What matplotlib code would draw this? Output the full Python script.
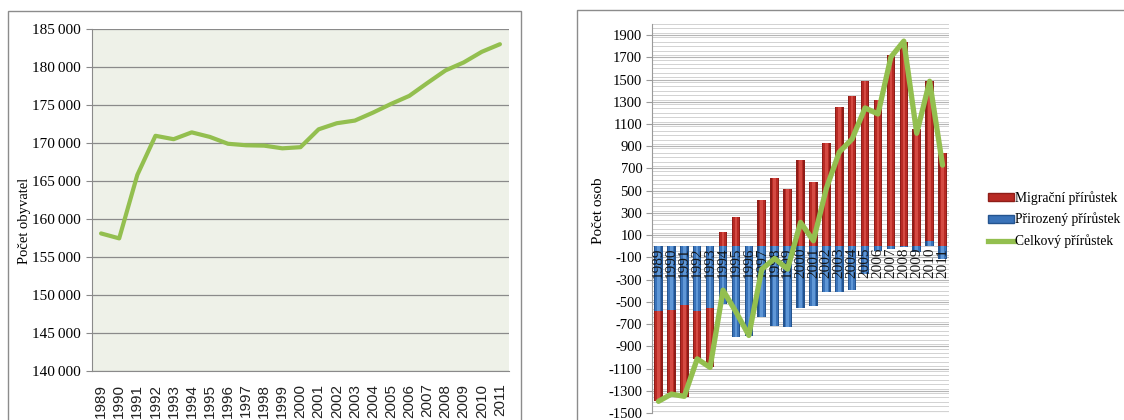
import matplotlib
matplotlib.use("Agg")
import matplotlib.pyplot as plt
import numpy as np
from matplotlib.patches import Rectangle
from matplotlib.lines import Line2D
from matplotlib.ticker import FuncFormatter, MultipleLocator

plt.rcParams['font.family'] = ['Liberation Serif', 'DejaVu Serif']
plt.rcParams['axes.unicode_minus'] = False

# ---------------- data ----------------
years = [str(y) for y in range(1989, 2012)]

population = [158100, 157450, 165800, 170950, 170500, 171400, 170800, 169900,
              169700, 169650, 169300, 169450, 171800, 172600, 172950, 174000,
              175150, 176200, 177900, 179550, 180600, 182000, 183000]

natural = [-583, -570, -530, -585, -555, -520, -820, -805,
           -640, -715, -725, -555, -540, -407, -410, -395,
           -252, -43, -25, -5, -52, 50, -111]

migration = [-810, -750, -830, -430, -530, 131, 262, 0,
             420, 614, 513, 778, 581, 927, 1253, 1354,
             1488, 1318, 1724, 1840, 1057, 1438, 838]

total = [-1395, -1330, -1350, -1013, -1090, -395, -590, -802,
         -207, -110, -205, 215, 50, 520, 847, 966,
         1245, 1190, 1702, 1846, 1017, 1485, 730]

legend_labels = ['Migrační přírůstek', 'Přirozený přírůstek', 'Celkový přírůstek']

# ---------------- figure ----------------
W, H = 1124, 420
fig = plt.figure(figsize=(W / 100, H / 100), dpi=100)

def fx(px):
    return px / W

def fy(py):
    return 1 - py / H

# panel frames
frame_col = '#8c8c8c'
fig.patches.append(Rectangle((fx(8), fy(440)), fx(521) - fx(8), fy(11) - fy(440),
                             transform=fig.transFigure, fill=False,
                             edgecolor=frame_col, linewidth=1.0))
fig.patches.append(Rectangle((fx(577), fy(440)), fx(1140) - fx(577), fy(10) - fy(440),
                             transform=fig.transFigure, fill=False,
                             edgecolor=frame_col, linewidth=1.0))

green = '#93bf4f'
grid_col = '#8a8a8a'

# ---------------- left chart ----------------
ax1 = fig.add_axes([fx(92), fy(371), fx(509) - fx(92), fy(29) - fy(371)])
ax1.set_facecolor('#eef1e8')
x = np.arange(len(years))
ax1.plot(x, population, color=green, linewidth=3.0, solid_joinstyle='round',
         solid_capstyle='round', zorder=3)
ax1.set_xlim(-0.5, len(years) - 0.5)
ax1.set_ylim(140000, 185000)
ax1.yaxis.set_major_locator(MultipleLocator(5000))
ax1.yaxis.set_major_formatter(FuncFormatter(
    lambda v, p: f"{int(v) // 1000}\u2009{int(v) % 1000:03d}"))
ax1.grid(axis='y', color=grid_col, linewidth=0.9)
ax1.set_axisbelow(True)
for s in ['top', 'right']:
    ax1.spines[s].set_visible(False)
ax1.spines['left'].set_color(grid_col)
ax1.spines['bottom'].set_color(grid_col)
ax1.tick_params(axis='y', length=4, color=grid_col, labelsize=11, pad=4)
ax1.tick_params(axis='x', length=0, pad=9)
ax1.set_xticks(x)
ax1.set_xticklabels(years, rotation=90, fontsize=11,
                    family=['Liberation Sans', 'DejaVu Sans'], color='#222222')
ax1.set_ylabel('Počet obyvatel', fontsize=10.5)
ax1.yaxis.set_label_coords((31 - 92) / (509 - 92), (371 - 221) / (371 - 29))

# ---------------- right chart ----------------
ax2 = fig.add_axes([fx(652), fy(413), fx(949) - fx(652), fy(24) - fy(413)])
nat = np.array(natural, dtype=float)
mig = np.array(migration, dtype=float)
mig_bottom = np.where(np.sign(mig) == np.sign(nat), nat, 0.0)

red_dark, red_mid, red_light = '#8f1d18', '#b82a24', '#d44a42'
blue_dark, blue_mid, blue_light = '#24548f', '#3a73b9', '#5f97d6'

bw = 0.66
for w, cb, cr in [(bw, blue_dark, red_dark), (bw * 0.7, blue_mid, red_mid),
                  (bw * 0.3, blue_light, red_light)]:
    ax2.bar(x, nat, width=w, color=cb, zorder=2, linewidth=0)
    ax2.bar(x, mig, bottom=mig_bottom, width=w, color=cr, zorder=2, linewidth=0)

for i, lab in enumerate(years):
    ax2.text(i, -15, lab, rotation=90, ha='center', va='top', fontsize=11,
             color='#151515', zorder=3)

ax2.plot(x, total, color=green, linewidth=3.8, solid_joinstyle='round',
         solid_capstyle='round', zorder=4)

ax2.set_xlim(-0.5, len(years) - 0.5)
ax2.set_ylim(-1500, 2000)
ax2.set_yticks(np.arange(-1500, 2000, 200))
ax2.yaxis.set_minor_locator(MultipleLocator(40))
ax2.grid(axis='y', which='major', color='#b5b5b5', linewidth=0.8)
ax2.grid(axis='y', which='minor', color='#d2d2d2', linewidth=0.7)
ax2.set_axisbelow(True)
for s in ['top', 'right', 'bottom']:
    ax2.spines[s].set_visible(False)
ax2.spines['left'].set_color('#9a9a9a')
ax2.tick_params(axis='y', which='major', length=4, color='#9a9a9a', labelsize=10.5, pad=3)
ax2.tick_params(axis='y', which='minor', length=0)
ax2.set_xticks([])
ax2.set_ylabel('Počet osob', fontsize=11)
ax2.yaxis.set_label_coords((605 - 652) / (949 - 652), (413 - 211) / (413 - 24))

handles = [Rectangle((0, 0), 1, 1, facecolor=red_mid, edgecolor=red_dark),
           Rectangle((0, 0), 1, 1, facecolor=blue_mid, edgecolor=blue_dark),
           Line2D([0], [0], color=green, linewidth=3.8)]
fig.legend(handles, legend_labels, loc='upper left',
           bbox_to_anchor=(fx(988), fy(191)), frameon=False, fontsize=9.8,
           handlelength=1.9, handleheight=0.5, handletextpad=0.1,
           labelspacing=0.58, borderpad=0, borderaxespad=0)

fig.savefig('out.png', dpi=100)
